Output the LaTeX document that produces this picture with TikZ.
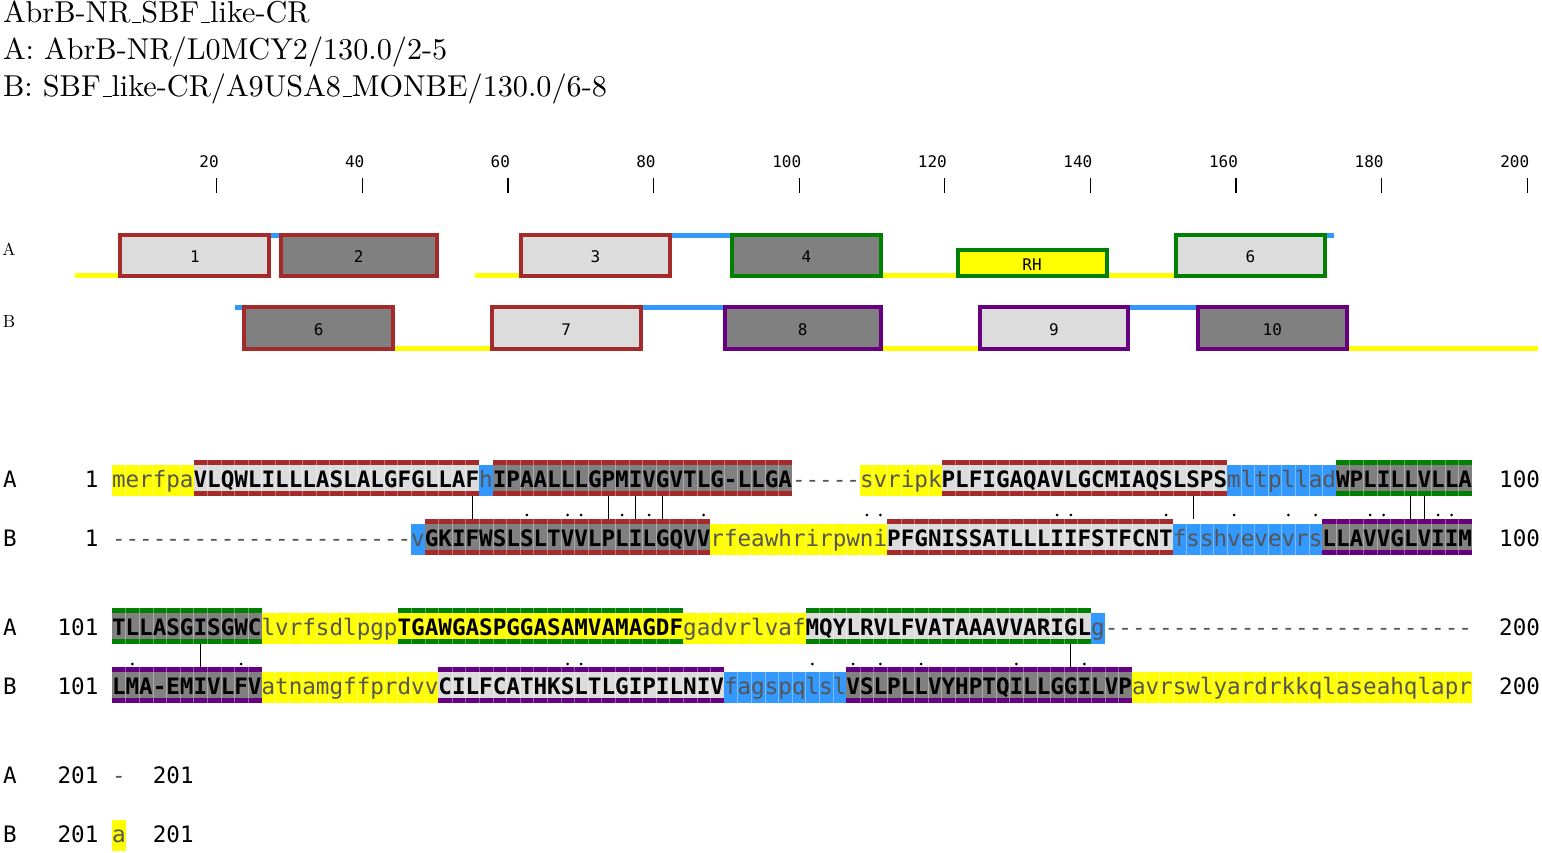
\documentclass[tikz,border=0pt]{standalone}
\usepackage{fontspec}
\newfontfamily\seqfont{DejaVu Sans Mono}[Ligatures=TeXOff]
\newcommand\uscore{\leavevmode\kern.06em\vbox{\hrule width.3em}}
\definecolor{ayellow}{RGB}{255,255,0}
\definecolor{ablue}{RGB}{51,153,255}
\definecolor{abrown}{RGB}{165,42,42}
\definecolor{agreen}{RGB}{0,128,0}
\definecolor{apurple}{RGB}{102,0,128}
\definecolor{alight}{RGB}{220,220,220}
\definecolor{adark}{RGB}{128,128,128}
\definecolor{aloop}{RGB}{85,85,85}
\tikzset{
  seqU/.style={font=\seqfont\bfseries\fontsize{22.59}{24}\selectfont, anchor=base west, inner sep=0pt, outer sep=0pt, text=black},
  seqL/.style={font=\seqfont\fontsize{22.59}{24}\selectfont, anchor=base west, inner sep=0pt, outer sep=0pt, text=aloop},
  rowtxt/.style={font=\seqfont\fontsize{22.59}{24}\selectfont, inner sep=0pt, outer sep=0pt, text=black},
  titletxt/.style={font=\fontsize{10}{12}\selectfont, anchor=base west, inner sep=0pt, outer sep=0pt},
  rulertxt/.style={font=\seqfont\fontsize{16}{16}\selectfont, anchor=base east, inner sep=0pt, outer sep=0pt},
  ticklin/.style={line width=1.2pt},
  tdom/.style={line width=4pt, inner sep=0pt, outer sep=0pt, text height=14.7pt, text depth=0pt, font=\seqfont\fontsize{16}{16}\selectfont},
  cellline/.style={draw=white, opacity=0.35, line width=0.6pt},
  matchbar/.style={line width=1.3pt, draw=black},
  matchdot/.style={fill=black},
  tracktxt/.style={font=\fontsize{10}{12}\selectfont, inner sep=0pt, outer sep=0pt}
}
% cell separators
\newcommand\cellgrid[4]{%
  \pgfmathtruncatemacro\cka{#3+1}%
  \pgfmathtruncatemacro\ckb{#3+#4-1}%
  \ifnum\ckb<\cka\else
    \foreach \k in {\cka,...,\ckb} {\draw[cellline] ({112+(\k-1)*13.6},#1) -- ({112+(\k-1)*13.6},#2);}%
  \fi}
% domain run: name, baseline, start, length, fill, bar colour, text
\newcommand\seqdom[7]{%
  \pgfmathsetmacro\sxa{112+(#3-1)*13.6}%
  \pgfmathsetmacro\sxb{112+(#3-1+#4)*13.6}%
  \fill[#5] (\sxa,#2-22) rectangle (\sxb,#2+4);
  \fill[#6] (\sxa,#2-27) rectangle (\sxb,#2-22);
  \fill[#6] (\sxa,#2+4) rectangle (\sxb,#2+9);
  \cellgrid{#2-27}{#2+9}{#3}{#4}
  \node[seqU] (#1) at (\sxa,#2) {#7};}
% loop run: name, baseline, start, length, fill, text
\newcommand\seqloop[6]{%
  \pgfmathsetmacro\sxa{112+(#3-1)*13.6}%
  \pgfmathsetmacro\sxb{112+(#3-1+#4)*13.6}%
  \fill[#5] (\sxa,#2-22) rectangle (\sxb,#2+9);
  \cellgrid{#2-22}{#2+9}{#3}{#4}
  \node[seqL] (#1) at (\sxa,#2) {#6};}
% gap run: name, baseline, start, text
\newcommand\seqgap[4]{%
  \pgfmathsetmacro\sxa{112+(#3-1)*13.6}%
  \node[seqL] (#1) at (\sxa,#2) {#4};}
% schematic box: name, c1, c2, top, bottom, fill, border, label
\newcommand\tdombox[8]{%
  \pgfmathsetmacro\bxs{74.8+(#2-1)*7.28}%
  \pgfmathsetmacro\bxe{74.8+#3*7.28}%
  \pgfmathsetmacro\bw{\bxe-\bxs-4}%
  \pgfmathsetmacro\bh{#5-#4-4}%
  \node[tdom, fill=#6, draw=#7, minimum width=\bw pt, minimum height=\bh pt] (#1) at ({(\bxs+\bxe)/2},{(#4+#5)/2}) {#8};}
% schematic line: c1, c2, y1, y2, colour
\newcommand\tline[5]{%
  \fill[#5] ({74.8+(#1-1)*7.28},#3) rectangle ({74.8+#2*7.28},#4);}
% row labels: prefix, baseline, label, left number, right number
\newcommand\rowlab[5]{%
  \node[rowtxt, anchor=base west] (#1l) at (3.2,#2) {#3};
  \node[rowtxt, anchor=base east] (#1n) at (98.4,#2) {#4};
  \node[rowtxt, anchor=base west] (#1e) at (1499.2,#2) {#5};}
\begin{document}
\begin{tikzpicture}[x=1pt,y=-1pt]
\useasboundingbox (0,0) rectangle (1542,853);
\fill[white] (0,0) rectangle (1542,853);
% titles
\node[titletxt] (t1) at (3,23) {\scalebox{3.02}{AbrB-NR\uscore SBF\uscore like-CR}};
\node[titletxt] (t2) at (3,60) {\scalebox{3.02}{A: AbrB-NR/L0MCY2/130.0/2-5}};
\node[titletxt] (t3) at (3,97) {\scalebox{3.02}{B: SBF\uscore like-CR/A9USA8\uscore MONBE/130.0/6-8}};
% ruler
\foreach \n in {20,40,...,200} {
  \pgfmathsetmacro\tx{74.8+(\n-0.5)*7.28}
  \draw[ticklin] (\tx,178) -- (\tx,193);
  \node[rulertxt] (r\n) at (\tx+2,168) {\n};
}
% track labels
\node[tracktxt] (tA) at (9,249) {\scalebox{1.75}{A}};
\node[tracktxt] (tB) at (9,322) {\scalebox{1.75}{B}};
% track A lines
\tline{1}{6}{273}{278}{ayellow}
\tline{56}{61}{273}{278}{ayellow}
\tline{112}{121}{273}{278}{ayellow}
\tline{143}{151}{273}{278}{ayellow}
\tline{28}{28}{233}{238}{ablue}
\tline{83}{90}{233}{238}{ablue}
\tline{173}{173}{233}{238}{ablue}
% track A boxes
\tdombox{dA1}{7}{27}{233}{278}{alight}{abrown}{1}
\tdombox{dA2}{29}{50}{233}{278}{adark}{abrown}{2}
\tdombox{dA3}{62}{82}{233}{278}{alight}{abrown}{3}
\tdombox{dA4}{91}{111}{233}{278}{adark}{agreen}{4}
\tdombox{dARH}{122}{142}{248}{278}{ayellow}{agreen}{RH}
\tdombox{dA6}{152}{172}{233}{278}{alight}{agreen}{6}
% track B lines
\tline{45}{57}{346}{351}{ayellow}
\tline{112}{124}{346}{351}{ayellow}
\tline{176}{201}{346}{351}{ayellow}
\tline{23}{23}{305}{310}{ablue}
\tline{79}{89}{305}{310}{ablue}
\tline{146}{154}{305}{310}{ablue}
% track B boxes
\tdombox{dB6}{24}{44}{305}{351}{adark}{abrown}{6}
\tdombox{dB7}{58}{78}{305}{351}{alight}{abrown}{7}
\tdombox{dB8}{90}{111}{305}{351}{adark}{apurple}{8}
\tdombox{dB9}{125}{145}{305}{351}{alight}{apurple}{9}
\tdombox{dB10}{155}{175}{305}{351}{adark}{apurple}{10}
% ---- alignment block 1
\rowlab{ra1}{487}{A}{1}{100}
\seqloop{a1s1}{487}{1}{6}{ayellow}{merfpa}
\seqdom{a1s2}{487}{7}{21}{alight}{abrown}{VLQWLILLLASLALGFGLLAF}
\seqloop{a1s3}{487}{28}{1}{ablue}{h}
\seqdom{a1s4}{487}{29}{22}{adark}{abrown}{IPAALLLGPMIVGVTLG-LLGA}
\seqgap{a1s5}{487}{51}{-----}
\seqloop{a1s6}{487}{56}{6}{ayellow}{svripk}
\seqdom{a1s7}{487}{62}{21}{alight}{abrown}{PLFIGAQAVLGCMIAQSLSPS}
\seqloop{a1s8}{487}{83}{8}{ablue}{mltpllad}
\seqdom{a1s9}{487}{91}{10}{adark}{agreen}{WPLILLVLLA}
\rowlab{rb1}{546}{B}{1}{100}
\seqgap{b1s1}{546}{1}{----------------------}
\seqloop{b1s2}{546}{23}{1}{ablue}{v}
\seqdom{b1s3}{546}{24}{21}{adark}{abrown}{GKIFWSLSLTVVLPLILGQVV}
\seqloop{b1s4}{546}{45}{13}{ayellow}{rfeawhrirpwni}
\seqdom{b1s5}{546}{58}{21}{alight}{abrown}{PFGNISSATLLLIIFSTFCNT}
\seqloop{b1s6}{546}{79}{11}{ablue}{fsshvevevrs}
\seqdom{b1s7}{546}{90}{11}{adark}{apurple}{LLAVVGLVIIM}
\foreach \p in {27,37,39,41,80,96,97} {\draw[matchbar] ({112+(\p-0.5)*13.6},496) -- ({112+(\p-0.5)*13.6},519);}
\foreach \p in {31,34,35,38,40,44,56,57,70,71,78,83,87,89,93,94,98,99} {\fill[matchdot] ({112+(\p-0.5)*13.6},515) circle (1.5);}
% ---- alignment block 2
\rowlab{ra2}{635}{A}{101}{200}
\seqdom{a2s1}{635}{1}{11}{adark}{agreen}{TLLASGISGWC}
\seqloop{a2s2}{635}{12}{10}{ayellow}{lvrfsdlpgp}
\seqdom{a2s3}{635}{22}{21}{ayellow}{agreen}{TGAWGASPGGASAMVAMAGDF}
\seqloop{a2s4}{635}{43}{9}{ayellow}{gadvrlvaf}
\seqdom{a2s5}{635}{52}{21}{alight}{agreen}{MQYLRVLFVATAAAVVARIGL}
\seqloop{a2s6}{635}{73}{1}{ablue}{g}
\seqgap{a2s7}{635}{74}{---------------------------}
\rowlab{rb2}{694}{B}{101}{200}
\seqdom{b2s1}{694}{1}{11}{adark}{apurple}{LMA-EMIVLFV}
\seqloop{b2s2}{694}{12}{13}{ayellow}{atnamgffprdvv}
\seqdom{b2s3}{694}{25}{21}{alight}{apurple}{CILFCATHKSLTLGIPILNIV}
\seqloop{b2s4}{694}{46}{9}{ablue}{fagspqlsl}
\seqdom{b2s5}{694}{55}{21}{adark}{apurple}{VSLPLLVYHPTQILLGGILVP}
\seqloop{b2s6}{694}{76}{25}{ayellow}{avrswlyardrkkqlaseahqlapr}
\foreach \p in {7,71} {\draw[matchbar] ({112+(\p-0.5)*13.6},644) -- ({112+(\p-0.5)*13.6},667);}
\foreach \p in {2,10,34,35,52,55,57,60,67,72} {\fill[matchdot] ({112+(\p-0.5)*13.6},664) circle (1.5);}
% ---- alignment block 3
\node[rowtxt, anchor=base west] (ra3l) at (3.2,783) {A};
\node[rowtxt, anchor=base east] (ra3n) at (98.4,783) {201};
\seqgap{a3s1}{783}{1}{-}
\node[rowtxt, anchor=base west] (ra3e) at (152.8,783) {201};
\node[rowtxt, anchor=base west] (rb3l) at (3.2,842) {B};
\node[rowtxt, anchor=base east] (rb3n) at (98.4,842) {201};
\seqloop{b3s1}{842}{1}{1}{ayellow}{a}
\node[rowtxt, anchor=base west] (rb3e) at (152.8,842) {201};
\end{tikzpicture}
\end{document}
